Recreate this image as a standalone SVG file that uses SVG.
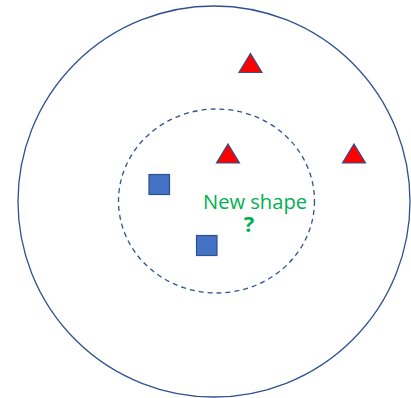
<svg xmlns="http://www.w3.org/2000/svg" width="411" height="398" viewBox="0 0 411 398">
<style>
.ring{fill:none;stroke:#2F528F;stroke-width:1.3}
.dash{stroke-dasharray:5 4}
.tri{fill:#FF0000;stroke:#2F528F;stroke-width:1.2}
.sq{fill:#4472C4;stroke:#2F528F;stroke-width:1.2}
.lbl{fill:#00B050;font-family:"Open Sans","Liberation Sans",sans-serif}
</style>
<rect width="411" height="398" fill="#fff"/>
<g id="outer-circle"><ellipse class="ring" cx="214" cy="201.5" rx="196" ry="195.5"/></g>
<g id="inner-circle"><ellipse class="ring dash" cx="216.5" cy="201" rx="98" ry="92"/></g>
<g id="tri-top"><polygon class="tri" points="250.5,53.5 262,72.5 239,72.5"/></g>
<g id="tri-mid"><polygon class="tri" points="228,144 239.5,163 216.5,163"/></g>
<g id="tri-right"><polygon class="tri" points="354,144 365.5,163 342.5,163"/></g>
<g id="sq-1"><rect class="sq" x="149" y="174.5" width="20.5" height="20"/></g>
<g id="sq-2"><rect class="sq" x="196.5" y="235.5" width="20.5" height="20"/></g>
<g id="new-shape">
<text class="lbl" x="203" y="209" font-size="20" textLength="104" lengthAdjust="spacingAndGlyphs">New shape</text>
<text class="lbl" x="249" y="231.5" font-size="22" font-weight="bold" text-anchor="middle">?</text>
</g>
</svg>
